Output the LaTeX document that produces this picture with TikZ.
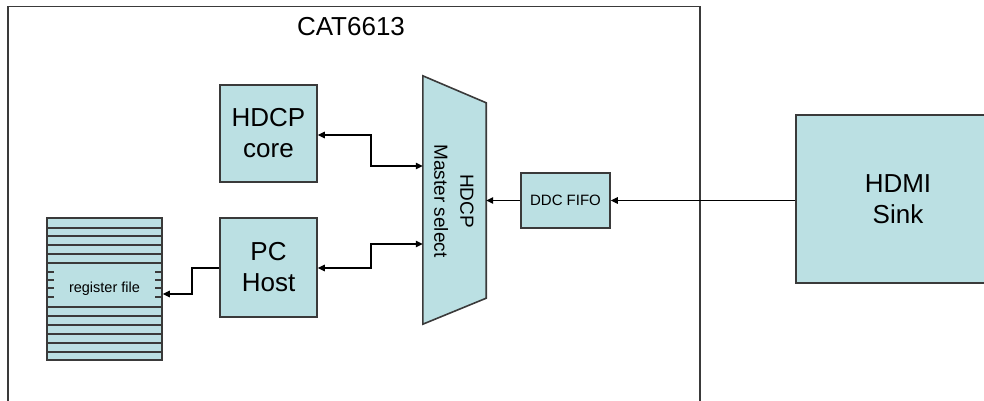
\documentclass[tikz,border=0pt]{standalone}
\usepackage{fontspec}
\setmainfont{Liberation Sans}
\usetikzlibrary{arrows.meta,calc}
\definecolor{boxfill}{HTML}{BBE0E3}
\definecolor{boxdraw}{HTML}{3A3A3A}
\begin{document}
\begin{tikzpicture}[x=1pt,y=-1pt,
  blk/.style={draw=boxdraw,fill=boxfill,line width=1.6pt,inner sep=0pt,align=center},
  big/.style={font=\fontsize{26}{31}\selectfont},
  conn/.style={draw=black,line width=1.1pt,-{Triangle[length=7pt,width=6.5pt]}},
  biconn/.style={draw=black,line width=1.1pt,{Triangle[length=7pt,width=6.5pt]}-{Triangle[length=7pt,width=6.5pt]}},
  regline/.style={draw=boxdraw,line width=1.3pt},
  tick/.style={draw=boxdraw,line width=1.2pt}]
\useasboundingbox (0,0) rectangle (984,401);
\clip (0,0) rectangle (984,401);
% chip frame
\node[draw=boxdraw,line width=1.5pt,minimum width=692pt,minimum height=430pt,inner sep=0pt,anchor=north west] (chip) at (7,6) {};
\node[font=\fontsize{26}{31}\selectfont] (title) at (351,26.5) {CAT6613};
% blocks
\node[blk,big,minimum width=97pt,minimum height=97pt] (core) at (268.5,133.5) {HDCP\\core};
\node[blk,big,minimum width=97pt,minimum height=99pt] (pc) at (268.5,267.5) {PC\\Host};
\node[blk,font=\fontsize{15}{18}\selectfont,minimum width=89pt,minimum height=55pt] (fifo) at (565.5,200.5) {DDC FIFO};
\node[blk,big,minimum width=204pt,minimum height=168pt] (hdmi) at (898,199) {HDMI\\Sink};
% register file
\node[blk,font=\fontsize{14.5}{17}\selectfont,minimum width=115pt,minimum height=142pt] (reg) at (104.5,289) {register file};
\foreach \yy in {228,236,245,263,307,316,325,334,343,352}
  \draw[regline] (reg.west |- 0,\yy) -- (reg.east |- 0,\yy);
\draw[draw=boxdraw,line width=2.4pt] (reg.west |- 0,254) -- (reg.east |- 0,254);
\foreach \yy in {272,280,288,297}{
  \draw[tick] (reg.west |- 0,\yy) -- ++(8,0);
  \draw[tick] (reg.east |- 0,\yy) -- ++(-8,0);
}
% master select (trapezoid)
\node[minimum width=63pt,minimum height=248pt,inner sep=0pt] (mux) at (454.5,200) {};
\draw[draw=boxdraw,fill=boxfill,line width=1.6pt,line join=miter]
  (mux.north west) -- ($(mux.north east)+(0,27)$) -- ($(mux.south east)+(0,-26)$) -- (mux.south west) -- cycle;
\node[rotate=-90,align=center,font=\fontsize{19}{26}\selectfont] (muxlabel) at (454,201) {HDCP\\Master select};
% connectors
\coordinate (c1) at (371,135);
\coordinate (c2) at (371,166);
\coordinate (c3) at (371,244);
\coordinate (c4) at (371,268);
\coordinate (c5) at (192,268);
\coordinate (c6) at (192,294);
\draw[conn] (hdmi.west |- fifo.east) -- (fifo.east);
\draw[conn] (fifo.west) -- (fifo.west -| mux.east);
\draw[biconn] (core.east |- c1) -- (c1) -- (c2) -- (mux.west |- c2);
\draw[biconn] (mux.west |- c3) -- (c3) -- (c4) -- (pc.east |- c4);
\draw[conn] (pc.west |- c5) -- (c5) -- (c6) -- (reg.east |- c6);
\end{tikzpicture}
\end{document}
